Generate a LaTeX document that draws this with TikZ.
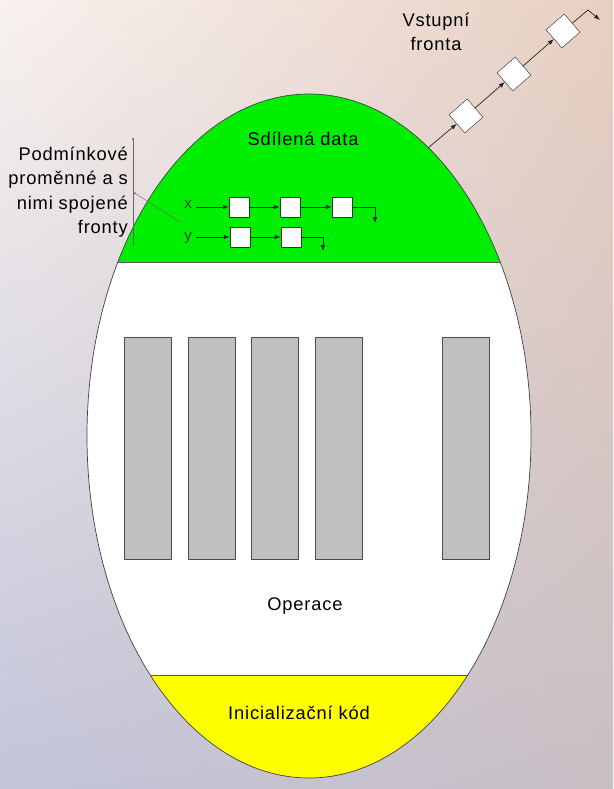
\documentclass[tikz,border=0pt]{standalone}
\usepackage{fontspec}
\setmainfont[LetterSpace=4.5]{Liberation Sans}
\usepackage{xcolor}
\usetikzlibrary{arrows.meta, positioning, shadings}

\definecolor{bgTL}{HTML}{F8F2EE}
\definecolor{bgTR}{HTML}{E8CFC2}
\definecolor{bgBL}{HTML}{C2C4DA}
\definecolor{bgBR}{HTML}{C8BFC4}
\definecolor{datagreen}{HTML}{00EE00}
\definecolor{inityellow}{HTML}{FFFF00}
\definecolor{opgray}{HTML}{C0C0C0}

\tikzset{
  label/.style={font=\fontsize{18.3}{24.4}\selectfont, inner sep=0pt},
  qbox/.style={draw=black!80, fill=white, minimum size=20pt, inner sep=0pt},
  qdiamond/.style={draw=black!85, fill=white, minimum size=24pt, inner sep=0pt, rotate=41},
  link/.style={draw=black!85, line width=0.7pt, -{Latex[length=6pt,width=4.5pt]}},
  note/.style={draw=black!60, line width=0.4pt, -{Latex[length=3pt,width=2pt]}},
  opbox/.style={draw=black!70, fill=opgray, line width=0.6pt}
}

\begin{document}
\begin{tikzpicture}[x=1pt, y=-1pt]
    % background
    \shade[upper left=bgTL, upper right=bgTR, lower left=bgBL, lower right=bgBR]
        (0,0) rectangle (613,789);
    \useasboundingbox (0,0) rectangle (613,789);

    % the monitor
    \fill[white] (309,436) ellipse (222 and 342);
    \begin{scope}
        \clip (309,436) ellipse (222 and 342);
        \fill[datagreen] (0,0) rectangle (613,262);
        \fill[inityellow] (0,675) rectangle (613,789);
        \draw[black!65, line width=1pt] (80,262) -- (540,262);
        \draw[black!65, line width=1pt] (80,675) -- (540,675);
    \end{scope}
    \draw[black!75, line width=0.7pt] (309,436) ellipse (222 and 342);

    % operations
    \foreach \x in {124,188,251,315,442}
        \draw[opbox] (\x,337) rectangle ++(47,222);

    % Labels
    \node[label] (sdilena) at (303,139) {Sdílená data};
    \node[label] (operace) at (305,606) {Operace};
    \node[label] (inicial) at (299,713) {Inicializační kód};
    \node[label, align=right, anchor=east] (podm) at (128,192)
        {Podmínkové\\proměnné a s\\nimi spojené\\fronty};
    \node[label, align=center] (vstup) at (436,32) {Vstupní\\fronta};

    % condition queues
    \node[label, font=\fontsize{15}{15}\selectfont, text=black!75] (xl) at (188,205) {x};
    \node[label, font=\fontsize{15}{15}\selectfont, text=black!75] (yl) at (188,238) {y};
    \node[qbox] (x1) at (239,207) {};
    \node[qbox] (x2) at (290,207) {};
    \node[qbox] (x3) at (342,207) {};
    \node[qbox] (y1) at (240,237) {};
    \node[qbox] (y2) at (291,237) {};
    \coordinate (xend) at (375,223);
    \coordinate (yend) at (323,251);
    \draw[link] (xl.east) ++(4,2) -- (x1);
    \draw[link] (x1) -- (x2);
    \draw[link] (x2) -- (x3);
    \draw[link] (x3.east) -| (xend);
    \draw[link] (yl.east) ++(4,-1) -- (y1);
    \draw[link] (y1) -- (y2);
    \draw[link] (y2.east) -| (yend);

    % entry queue
    \coordinate (entry) at (428,148);
    \node[qdiamond] (q1) at (466,116) {};
    \node[qdiamond] (q2) at (514,74) {};
    \node[qdiamond] (q3) at (563,31) {};
    \coordinate (bend) at (588,10);
    \coordinate (qend) at (600,20);
    \draw[link] (entry) -- (q1);
    \draw[link] (q1) -- (q2);
    \draw[link] (q2) -- (q3);
    \draw[link] (q3) -- (bend) -- (qend);

    % pointer to the queues
    \coordinate (ptop) at (133,137);
    \coordinate (pbot) at (133,246);
    \coordinate (pmid) at (133,192);
    \coordinate (pin) at (180,222);
    \draw[note] (pbot) -- (ptop);
    \draw[note] (pin) -- (pmid);
\end{tikzpicture}
\end{document}
